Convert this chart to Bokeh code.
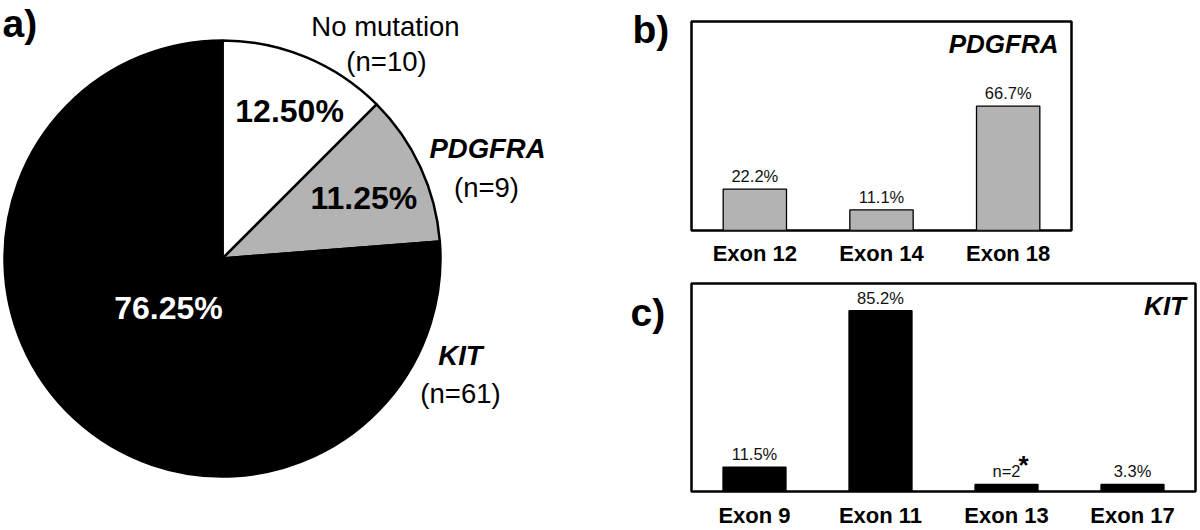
import math
from bokeh.plotting import figure
from bokeh.models import Range1d, FactorRange, ColumnDataSource, Label
from bokeh.layouts import row, column
from bokeh.core.properties import value
from bokeh.embed import file_html
from bokeh.resources import INLINE

# ---------------- data ----------------
pie_groups = ["No mutation", "PDGFRA", "KIT"]
pie_counts = [10, 9, 61]
pie_pct_labels = ["12.50%", "11.25%", "76.25%"]
pie_n_labels = ["(n=10)", "(n=9)", "(n=61)"]
pie_colors = ["white", "#b3b3b3", "black"]
pie_pct_colors = ["black", "black", "white"]

pdgfra_exons = ["Exon 12", "Exon 14", "Exon 18"]
pdgfra_pct = [22.2, 11.1, 66.7]
pdgfra_labels = ["22.2%", "11.1%", "66.7%"]

kit_exons = ["Exon 9", "Exon 11", "Exon 13", "Exon 17"]
kit_pct = [11.5, 85.2, 3.3, 3.3]
kit_labels = ["11.5%", "85.2%", "n=2", "3.3%"]

FONT = "Liberation Sans"

# ---------------- pie (panel a) ----------------
PW, PH = 678, 530
p = figure(width=PW, height=PH, x_range=Range1d(0, PW), y_range=Range1d(0, PH),
           output_backend="svg", toolbar_location=None,
           x_axis_location=None, y_axis_location=None,
           min_border=0, min_border_left=0, min_border_right=0,
           min_border_top=0, min_border_bottom=0)
p.grid.visible = False
p.outline_line_color = None
p.background_fill_color = "white"
p.border_fill_color = "white"

cx, cy, R = 222, PH - 258, 218
total = sum(pie_counts)
c0s, c1s, acc = [], [], 0
for cnt in pie_counts:
    c0s.append(acc / total)
    acc += cnt
    c1s.append(acc / total)
starts = [math.radians(90 - c1 * 360) for c1 in c1s]
ends = [math.radians(90 - c0 * 360) for c0 in c0s]

wsrc = ColumnDataSource(dict(start=starts, end=ends, color=pie_colors))
p.wedge(x=cx, y=cy, radius=R, start_angle="start", end_angle="end",
        fill_color="color", line_color="black", line_width=2.5, source=wsrc)

# percentage labels inside the slices (placed along each slice's mid angle)
r_frac = [0.745, 0.706, 0.336]
ang_adj = [1.9, 1.5, 4.7]
lx, ly = [], []
for c0, c1, rf, aa in zip(c0s, c1s, r_frac, ang_adj):
    th = math.radians((c0 + c1) / 2 * 360 + aa)
    lx.append(cx + rf * R * math.sin(th))
    ly.append(cy + rf * R * math.cos(th))
psrc = ColumnDataSource(dict(x=lx, y=ly, t=pie_pct_labels, c=pie_pct_colors))
p.text(x="x", y="y", text="t", text_color="c", source=psrc, text_align="center",
       text_baseline="middle", text_font=value(FONT), text_font_style="bold",
       text_font_size="32px")

# group names and counts outside the pie (screen positions, y from top)
name_pos = [(385, 26), (487, 148), (460, 355)]
n_pos = [(386, 61), (486, 187), (460, 393)]
name_styles = ["normal", "bold italic", "bold italic"]
nsrc = ColumnDataSource(dict(x=[q[0] for q in name_pos], y=[PH - q[1] for q in name_pos],
                             t=pie_groups, s=name_styles))
p.text(x="x", y="y", text="t", text_font_style="s", source=nsrc, text_align="center",
       text_baseline="middle", text_font=value(FONT), text_font_size="27.5px", text_color="black")
csrc = ColumnDataSource(dict(x=[q[0] for q in n_pos], y=[PH - q[1] for q in n_pos], t=pie_n_labels))
p.text(x="x", y="y", text="t", source=csrc, text_align="center",
       text_baseline="middle", text_font=value(FONT), text_font_size="27.5px", text_color="black")

# panel letters
letters = ["a)", "b)", "c)"]
letter_pos = [(2, 23), (632, 29), (630, 312)]
lsrc = ColumnDataSource(dict(x=[q[0] for q in letter_pos], y=[PH - q[1] for q in letter_pos], t=letters))
p.text(x="x", y="y", text="t", source=lsrc, text_align="left", text_baseline="middle",
       text_font=value(FONT), text_font_style="bold", text_font_size="39px", text_color="black")


# ---------------- bar panels ----------------
def bar_fig(exons, vals, labels, color, ymax, frame_h, width, height, mbt, mbb, mbr, standoff):
    f = figure(x_range=FactorRange(*exons), y_range=Range1d(0, ymax), width=width, height=height,
               output_backend="svg", toolbar_location=None, y_axis_location=None,
               min_border_left=13, min_border_right=mbr, min_border_top=mbt, min_border_bottom=mbb)
    pad = 13 * ymax / frame_h
    src = ColumnDataSource(dict(x=exons, top=vals, label=labels, ly=[v + pad for v in vals]))
    f.vbar(x="x", top="top", width=0.5, source=src, fill_color=color,
           line_color="black", line_width=1.3)
    f.text(x="x", y="ly", text="label", source=src, text_align="center",
           text_baseline="alphabetic", text_font=value(FONT),
           text_font_size="16.5px", text_color="#111111")
    f.grid.visible = False
    f.xaxis.axis_line_color = None
    f.xaxis.major_tick_line_color = None
    f.xaxis.minor_tick_line_color = None
    f.xaxis.major_label_text_font = FONT
    f.xaxis.major_label_text_font_style = "bold"
    f.xaxis.major_label_text_font_size = "22px"
    f.xaxis.major_label_text_color = "black"
    f.xaxis.major_label_standoff = standoff
    f.outline_line_color = "black"
    f.outline_line_width = 2.5
    f.outline_line_alpha = 1
    f.background_fill_color = "white"
    f.border_fill_color = "white"
    return f


YMAX_B, FH_B = 112, 209
b = bar_fig(pdgfra_exons, pdgfra_pct, pdgfra_labels, "#b3b3b3", YMAX_B, FH_B,
            width=398, height=275, mbt=21, mbb=45, mbr=4, standoff=4)
b.add_layout(Label(x=len(pdgfra_exons), y=YMAX_B - 22 * YMAX_B / FH_B, x_offset=-13,
                   text="PDGFRA", text_font=FONT, text_font_style="bold italic",
                   text_font_size="26px", text_align="right", text_baseline="middle",
                   text_color="black"))

YMAX_C, FH_C = 98, 208
c = bar_fig(kit_exons, kit_pct, kit_labels, "black", YMAX_C, FH_C,
            width=522, height=255, mbt=8, mbb=39, mbr=5, standoff=5)
c.text(x=[kit_exons[2]], y=[kit_pct[2] + 19 * YMAX_C / FH_C], text=["*"], x_offset=12,
       text_align="left", text_baseline="alphabetic", text_font=value(FONT),
       text_font_style="bold", text_font_size="26px", text_color="black")
c.add_layout(Label(x=len(kit_exons), y=YMAX_C - 22 * YMAX_C / FH_C, x_offset=-9.5,
                   text="KIT", text_font=FONT, text_font_style="bold italic",
                   text_font_size="26px", text_align="right", text_baseline="middle",
                   text_color="black"))

layout = row(p, column(b, c))
open("out.html", "w").write(file_html(layout, INLINE))
